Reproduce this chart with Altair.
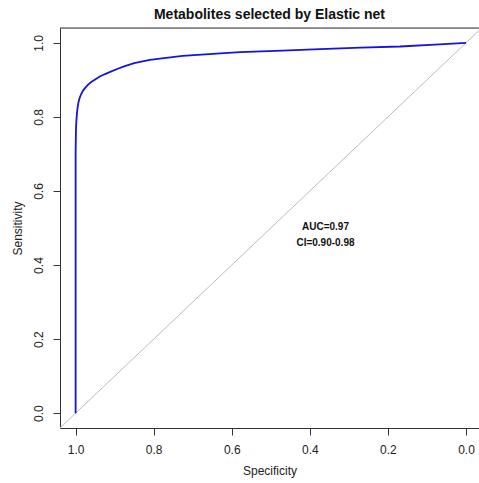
import altair as alt
import pandas as pd

# ROC curve read for the Elastic-net metabolite panel
specificity = [1.0, 1.0, 0.9995, 0.999, 0.998, 0.9965, 0.995, 0.993, 0.990, 0.986,
               0.981, 0.975, 0.968, 0.960, 0.950, 0.938, 0.926, 0.910, 0.892,
               0.874, 0.850, 0.810, 0.726, 0.639, 0.579, 0.470, 0.374, 0.270,
               0.169, 0.080, 0.0]
sensitivity = [0.0, 0.70, 0.74, 0.77, 0.79, 0.81, 0.825, 0.838, 0.850, 0.861,
               0.871, 0.879, 0.887, 0.894, 0.901, 0.909, 0.915, 0.922, 0.930,
               0.937, 0.945, 0.954, 0.965, 0.971, 0.975, 0.979, 0.983, 0.987,
               0.990, 0.995, 1.0]
tick_values = [0.0, 0.2, 0.4, 0.6, 0.8, 1.0]
annotations = ["AUC=0.97", "CI=0.90-0.98"]
annot_spec = [0.36, 0.36]
annot_sens = [0.503, 0.459]

x_domain = [-0.0333, 1.04]
y_domain = [-0.04, 1.04]

FONT = "Liberation Sans"

roc = pd.DataFrame({"spec": specificity, "sens": sensitivity,
                    "order": range(len(specificity))})
diag = pd.DataFrame({"spec": [x_domain[1], x_domain[0]],
                     "sens": [1 - x_domain[1], 1 - x_domain[0]]})
text_df = pd.DataFrame({"spec": annot_spec, "sens": annot_sens, "label": annotations})
top_df = pd.DataFrame({"spec": [x_domain[1]], "spec2": [x_domain[0]], "sens": [y_domain[1]]})

x_scale = alt.Scale(domain=x_domain, reverse=True, nice=False, zero=False)
y_scale = alt.Scale(domain=y_domain, nice=False, zero=False)

x_axis = alt.Axis(values=tick_values, format=".1f", title="Specificity",
                  grid=False, tickSize=7, tickColor="#333", domainColor="#333",
                  labelFontSize=12, labelFont=FONT, labelColor="#222",
                  labelPadding=9, titleFontSize=12, titleFont=FONT,
                  titleFontWeight="normal", titleColor="#222", titlePadding=10)
y_axis = alt.Axis(values=tick_values, format=".1f", title="Sensitivity",
                  grid=False, tickSize=7, tickColor="#333", domainColor="#333",
                  labelFontSize=12, labelFont=FONT, labelColor="#222",
                  labelAngle=270, labelAlign="center", labelBaseline="bottom",
                  labelPadding=8, titleFontSize=12, titleFont=FONT,
                  titleFontWeight="normal", titleColor="#222", titlePadding=8)

diag_layer = alt.Chart(diag).mark_line(color="#bdbdbd", strokeWidth=1, clip=True).encode(
    x=alt.X("spec:Q", scale=x_scale, axis=x_axis),
    y=alt.Y("sens:Q", scale=y_scale, axis=y_axis),
)

curve_layer = alt.Chart(roc).mark_line(color="#1414e0", strokeWidth=1.8, clip=True).encode(
    x=alt.X("spec:Q", scale=x_scale),
    y=alt.Y("sens:Q", scale=y_scale),
    order="order:Q",
)

top_border = alt.Chart(top_df).mark_rule(color="#333", strokeWidth=1).encode(
    x=alt.X("spec:Q", scale=x_scale),
    x2="spec2:Q",
    y=alt.Y("sens:Q", scale=y_scale),
)

text_layer = alt.Chart(text_df).mark_text(font=FONT, fontSize=10, fontWeight="bold",
                                          color="#111").encode(
    x=alt.X("spec:Q", scale=x_scale),
    y=alt.Y("sens:Q", scale=y_scale),
    text="label:N",
)

chart = alt.layer(diag_layer, curve_layer, top_border, text_layer).properties(
    width=419,
    height=400,
    title=alt.TitleParams("Metabolites selected by Elastic net", font=FONT,
                          fontSize=14, fontWeight="bold", color="#111",
                          anchor="middle", offset=6),
    padding={"left": 60, "top": 28, "right": 0, "bottom": 55},
    autosize=alt.AutoSizeParams(type="none"),
).configure_view(stroke=None).configure(background="white")

chart.save("out.html", embed_options={"renderer": "svg", "actions": False})
